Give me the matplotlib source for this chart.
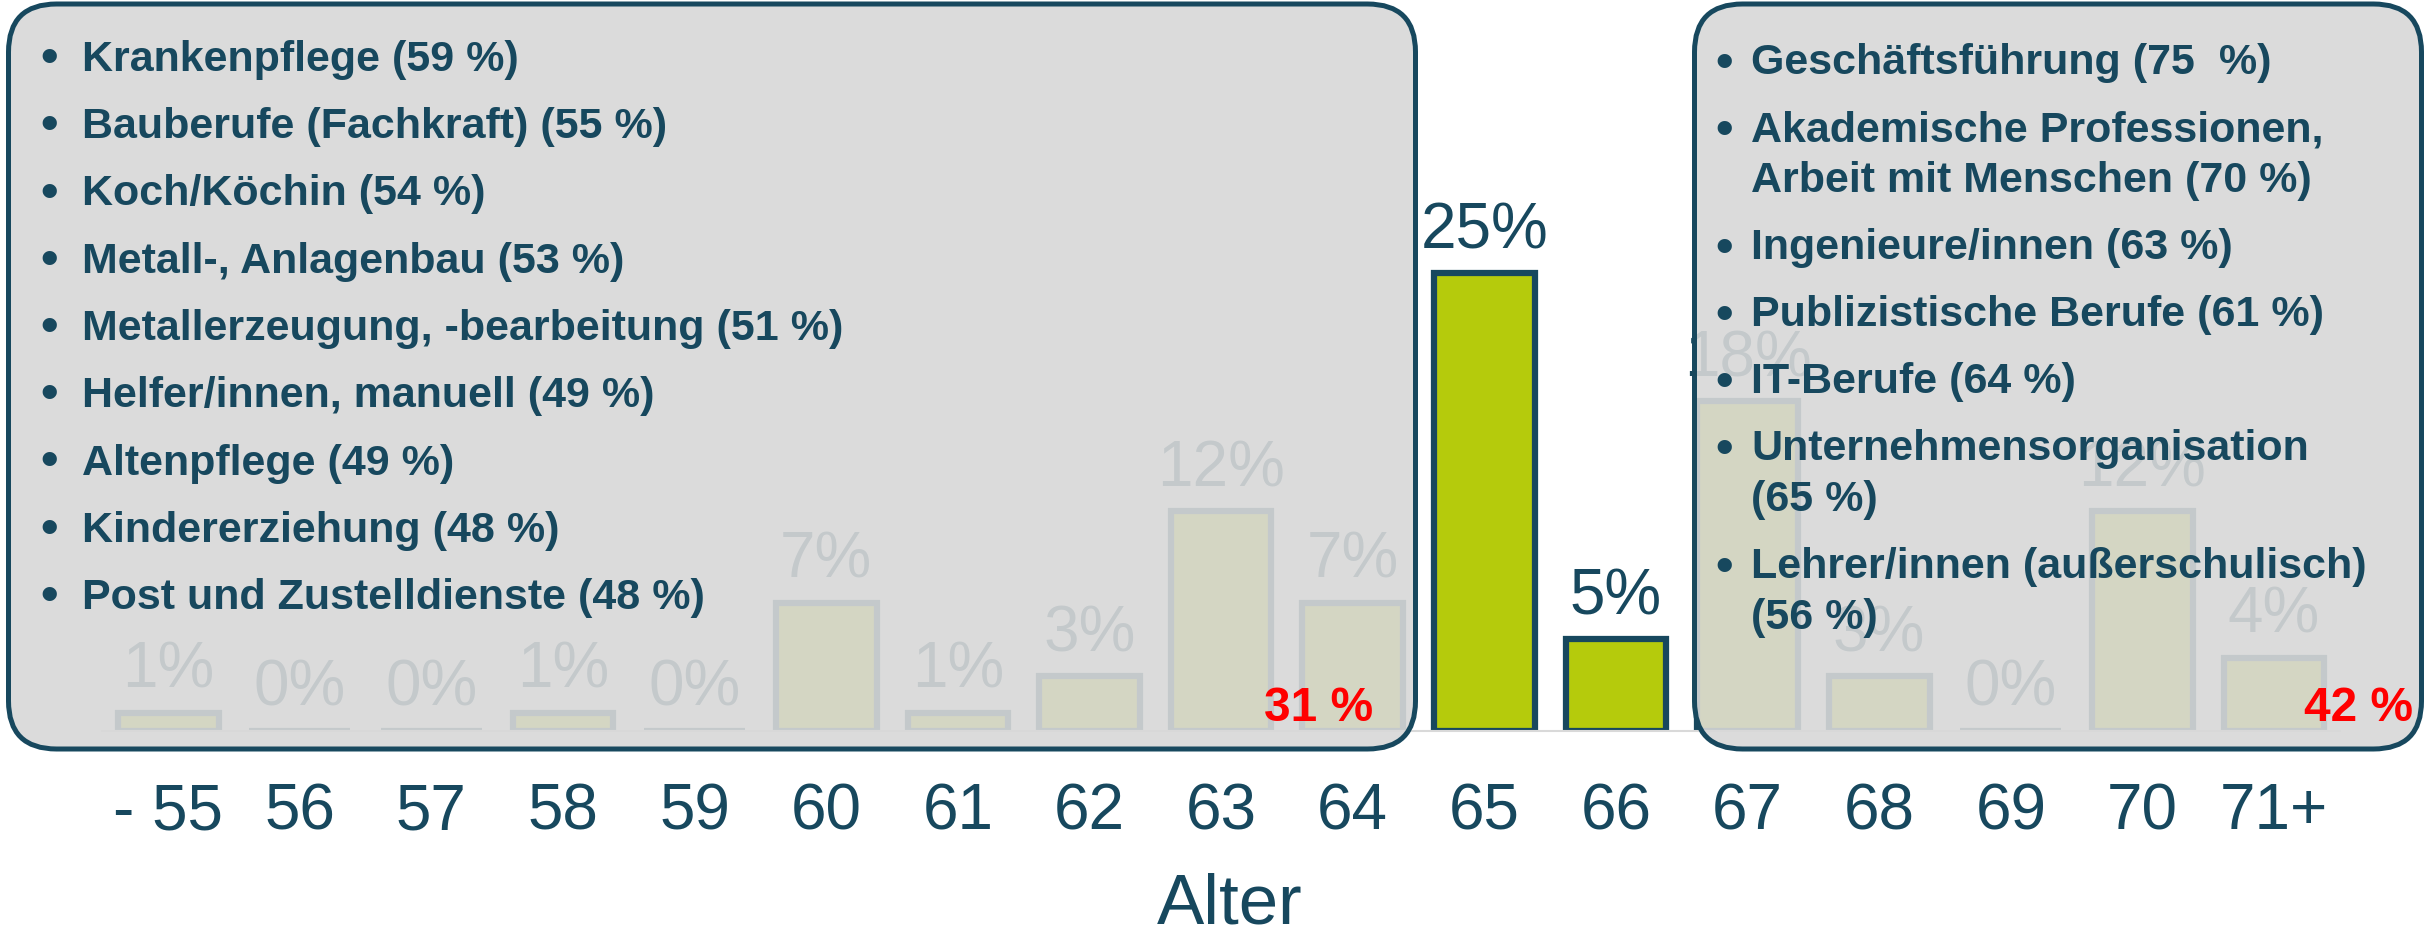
import matplotlib
matplotlib.use("Agg")
import matplotlib.pyplot as plt
from matplotlib.patches import FancyBboxPatch

# Share of retirements by age (%)
ages = ["- 55", "56", "57", "58", "59", "60", "61", "62", "63", "64",
        "65", "66", "67", "68", "69", "70", "71+"]
shares = [1, 0, 0, 1, 0, 7, 1, 3, 12, 7, 25, 5, 18, 3, 0, 12, 4]

# Occupations retiring early / late
early_jobs = [
    "Krankenpflege (59 %)",
    "Bauberufe (Fachkraft) (55 %)",
    "Koch/Köchin (54 %)",
    "Metall-, Anlagenbau (53 %)",
    "Metallerzeugung, -bearbeitung (51 %)",
    "Helfer/innen, manuell (49 %)",
    "Altenpflege (49 %)",
    "Kindererziehung (48 %)",
    "Post und Zustelldienste (48 %)",
]
late_jobs = [
    "Geschäftsführung (75  %)",
    "Akademische Professionen,\nArbeit mit Menschen (70 %)",
    "Ingenieure/innen (63 %)",
    "Publizistische Berufe (61 %)",
    "IT-Berufe (64 %)",
    "Unternehmensorganisation\n(65 %)",
    "Lehrer/innen (außerschulisch)\n(56 %)",
]
early_total = "31 %"
late_total = "42 %"

DARK = "#17485e"
GREEN = "#b5cb0c"
FONT = ["Liberation Sans", "DejaVu Sans"]
plt.rcParams["font.family"] = FONT

W, H = 2430, 932
fig = plt.figure(figsize=(W / 100, H / 100), dpi=100)
fig.patch.set_facecolor("white")

# ---- bar chart -------------------------------------------------------
ax_h = 549.3
ax = fig.add_axes([102.4 / W, 201 / H, 2237.4 / W, ax_h / H])
ax.patch.set_visible(False)
xs = list(range(len(ages)))
ax.bar(xs, shares, width=0.765, color=GREEN, edgecolor=DARK,
       linewidth=4.5, zorder=2)
for xi, v in zip(xs, shares):
    ax.annotate(f"{v}%", (xi, v), xytext=(0, 18), textcoords="offset points",
                ha="center", va="baseline", fontsize=46, color=DARK,
                annotation_clip=False)

ax.set_xlim(-0.5, len(ages) - 0.5)
ax.set_ylim(0, 30)
ax.set_xticks(xs, ages)
ax.tick_params(axis="x", length=0, pad=37, labelsize=46, labelcolor=DARK)
ax.set_yticks([])
for side in ("left", "right", "top"):
    ax.spines[side].set_visible(False)
ax.spines["bottom"].set_color("#d9d9d9")
ax.spines["bottom"].set_linewidth(1.5)
ax.set_xlabel("Alter", fontsize=51, color=DARK)
ax.xaxis.set_label_coords(0.504, -(873 - 731) / ax_h)
ax.xaxis.label.set_va("top")

# ---- translucent callout boxes (pixel coordinates) -------------------
ov = fig.add_axes([0, 0, 1, 1], zorder=5)
ov.set_xlim(0, W)
ov.set_ylim(H, 0)
ov.axis("off")

box_face = (216 / 255, 216 / 255, 216 / 255, 0.9)


def callout(x0, y0, x1, y1):
    ov.add_patch(FancyBboxPatch((x0, y0), x1 - x0, y1 - y0,
                                boxstyle="round,pad=0,rounding_size=48",
                                facecolor=box_face, edgecolor=DARK,
                                linewidth=3.6, zorder=1))


callout(8.5, 4, 1415.5, 749)
callout(1694.5, 4, 2421.5, 749)

# left list
for i, item in enumerate(early_jobs):
    yb = 71 + i * 67.25
    ov.text(49, yb + 1, "•", ha="center", va="baseline", fontsize=36,
            fontweight="bold", color=DARK, zorder=3)
    ov.text(81.7, yb, item, ha="left", va="baseline", fontsize=31,
            fontweight="bold", color=DARK, zorder=3)

# right list
yb = 74
for item in late_jobs:
    lines = item.split("\n")
    ov.text(1724.4, yb + 3, "•", ha="center", va="baseline", fontsize=36,
            fontweight="bold", color=DARK, zorder=3)
    for line in lines:
        ov.text(1751, yb, line, ha="left", va="baseline", fontsize=31,
                fontweight="bold", color=DARK, zorder=3)
        yb += 51
    yb += 16

ov.text(1373, 721, early_total, ha="right", va="baseline", fontsize=34.5,
        fontweight="bold", color="#ff0000", zorder=3)
ov.text(2413, 721, late_total, ha="right", va="baseline", fontsize=34.5,
        fontweight="bold", color="#ff0000", zorder=3)

fig.savefig("out.png", dpi=100, facecolor="white")
